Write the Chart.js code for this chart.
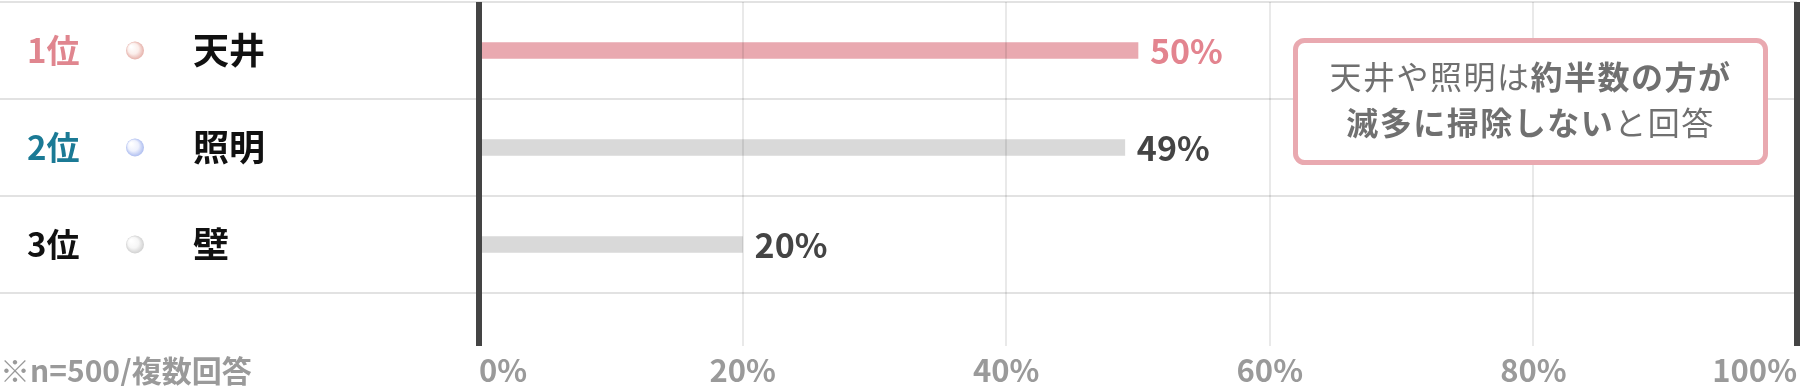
<!DOCTYPE html>
<html lang="ja">
<head>
<meta charset="utf-8">
<script src="https://cdn.jsdelivr.net/npm/chart.js@4.4.1/dist/chart.umd.min.js"></script>
<style>
  html, body { margin: 0; padding: 0; background: #fff; }
</style>
</head>
<body>
<canvas id="rankChart" width="1806" height="386"></canvas>
<script>
const categories = ['天井', '照明', '壁'];
const ranks = ['1位', '2位', '3位'];
const percentages = [50, 49, 20];
const tickValues = [0, 20, 40, 60, 80, 100];
const footnote = '※n=500/複数回答';
const calloutLines = [
  [['天井や照明は', false], ['約半数の方が', true]],
  [['滅多に掃除しない', true], ['と回答', false]]
];

const JP = '"Noto Sans CJK JP", "Noto Sans", sans-serif';
const rankColors = ['#e0868f', '#1b7a95', '#111111'];
const barColors = ['#e9a9b0', '#d9d9d9', '#d9d9d9'];
const valueColors = ['#e3848f', '#444444', '#444444'];
const dotColors = [['#fbeeeb', '#e6b1aa'], ['#eef1fd', '#adbdf0'], ['#f6f6f6', '#d0d0d0']];

function isEdge(ctx) {
  return ctx.tick && (ctx.tick.value === 0 || ctx.tick.value === 100);
}

// 左側の順位・ドット・項目名
const sideLabels = {
  id: 'sideLabels',
  afterDraw(chart) {
    const ctx = chart.ctx;
    const y = chart.scales.y;
    ctx.save();
    ctx.textBaseline = 'middle';
    ctx.textAlign = 'left';
    categories.forEach(function(name, i) {
      const py = y.getPixelForValue(i);
      ctx.font = 'bold 33px ' + JP;
      ctx.fillStyle = rankColors[i];
      ctx.fillText(ranks[i], 27, py);

      // 小さい球
      const g = ctx.createRadialGradient(131, py - 4, 1, 135, py, 9);
      g.addColorStop(0, '#ffffff');
      g.addColorStop(0.55, dotColors[i][0]);
      g.addColorStop(1, dotColors[i][1]);
      ctx.beginPath();
      ctx.arc(135, py, 9, 0, Math.PI * 2);
      ctx.fillStyle = g;
      ctx.fill();

      ctx.font = 'bold 36px ' + JP;
      ctx.fillStyle = '#111111';
      ctx.fillText(name, 193, py);
    });
    ctx.restore();
  }
};

// バーの右に数値
const valueLabels = {
  id: 'valueLabels',
  afterDraw(chart) {
    const ctx = chart.ctx;
    const meta = chart.getDatasetMeta(0);
    ctx.save();
    ctx.font = 'bold 34px ' + JP;
    ctx.textBaseline = 'middle';
    ctx.textAlign = 'left';
    meta.data.forEach(function(bar, i) {
      ctx.fillStyle = valueColors[i];
      ctx.fillText(percentages[i] + '%', bar.x + 12, bar.y + 1);
    });
    ctx.restore();
  }
};

// 注記ボックスと脚注
const callout = {
  id: 'callout',
  afterDraw(chart) {
    const ctx = chart.ctx;
    ctx.save();
    ctx.beginPath();
    ctx.roundRect(1295.5, 40.5, 470, 122, 9);
    ctx.fillStyle = '#ffffff';
    ctx.fill();
    ctx.lineWidth = 5;
    ctx.strokeStyle = '#e9a9b0';
    ctx.stroke();

    ctx.fillStyle = '#707070';
    ctx.textBaseline = 'middle';
    ctx.textAlign = 'left';
    ctx.letterSpacing = '1.5px';
    const lineY = [77, 123];
    calloutLines.forEach(function(parts, li) {
      let total = 0;
      parts.forEach(function(p) {
        ctx.font = (p[1] ? 'bold ' : '') + '32px ' + JP;
        total += ctx.measureText(p[0]).width;
      });
      let x = 1530.5 - total / 2;
      parts.forEach(function(p) {
        ctx.font = (p[1] ? 'bold ' : '') + '32px ' + JP;
        ctx.fillText(p[0], x, lineY[li]);
        x += ctx.measureText(p[0]).width;
      });
    });

    ctx.letterSpacing = '0px';
    ctx.font = 'bold 30px ' + JP;
    ctx.fillStyle = '#9a9a9a';
    ctx.fillText(footnote, 0, 371);
    ctx.restore();
  }
};

const myBarChart = new Chart(document.getElementById('rankChart').getContext('2d'), {
  type: 'bar',
  data: {
    labels: categories,
    datasets: [{
      data: percentages,
      backgroundColor: barColors,
      borderWidth: 0,
      barThickness: 16
    }]
  },
  options: {
    indexAxis: 'y',
    responsive: false,
    animation: false,
    devicePixelRatio: 1,
    layout: { padding: { top: 2, right: 9, bottom: 0, left: 0 } },
    plugins: {
      legend: { display: false },
      tooltip: { enabled: false }
    },
    scales: {
      y: {
        type: 'category',
        offset: true,
        ticks: { display: false },
        border: { display: false },
        grid: {
          offset: true,
          color: '#e2e2e2',
          lineWidth: 2,
          tickColor: '#e2e2e2',
          tickWidth: 2,
          tickLength: 479
        },
        afterFit: function(s) { s.width = 479; }
      },
      x: {
        type: 'linear',
        position: 'bottom',
        min: 0,
        max: 100,
        afterBuildTicks: function(s) {
          s.ticks = tickValues.map(function(v) { return { value: v }; });
        },
        ticks: {
          align: 'inner',
          padding: 6,
          color: '#9a9a9a',
          font: { family: JP, size: 31, weight: 'bold' },
          callback: function(v) { return v + '%'; }
        },
        border: { display: false },
        grid: {
          z: 1,
          color: function(c) { return isEdge(c) ? '#444444' : 'rgba(0,0,0,0.085)'; },
          lineWidth: function(c) { return isEdge(c) ? 6 : 2; },
          tickColor: function(c) { return isEdge(c) ? '#444444' : 'rgba(0,0,0,0.085)'; },
          tickWidth: function(c) { return isEdge(c) ? 6 : 2; },
          tickLength: 53
        },
        afterFit: function(s) { s.height = 93; }
      }
    }
  },
  plugins: [sideLabels, valueLabels, callout]
});
</script>
</body>
</html>
